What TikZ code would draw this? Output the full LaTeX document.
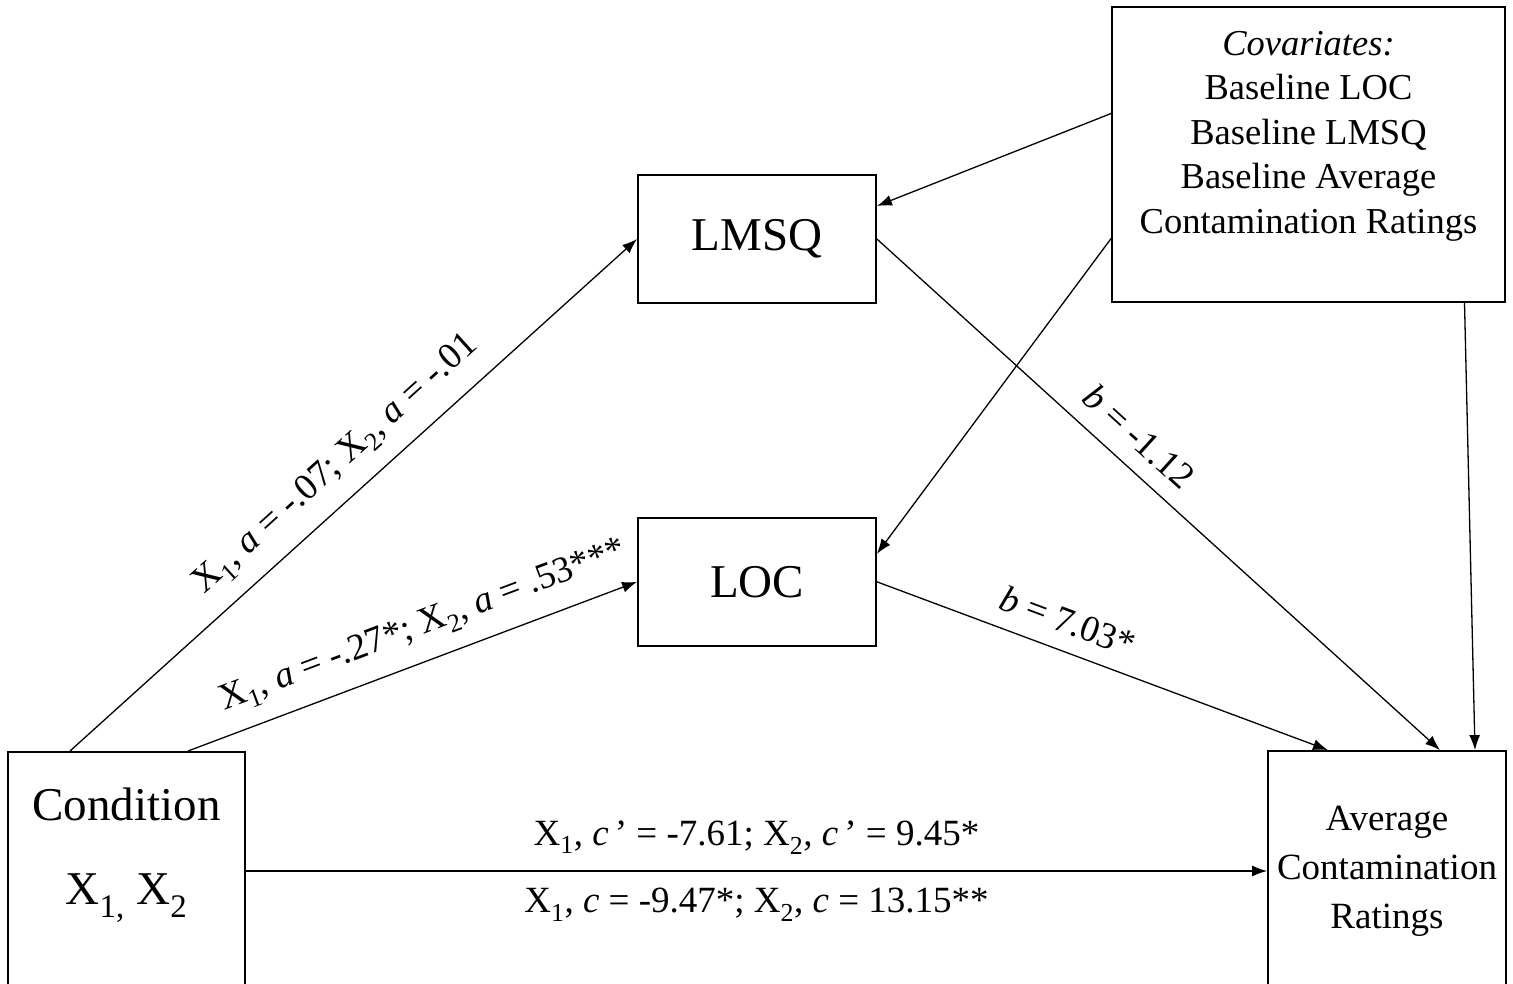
\documentclass[tikz,border=0pt]{standalone}
\usepackage{fontspec}
\setmainfont{Liberation Serif}
\usetikzlibrary{arrows.meta, positioning, calc}

\begin{document}
\begin{tikzpicture}[x=1pt, y=-1pt,
  var/.style={rectangle, draw, line width=1.8pt, inner sep=2pt, align=center},
  big/.style={font=\fontsize{47}{84}\selectfont},
  small/.style={font=\fontsize{37}{49}\selectfont},
  link/.style={-{Latex[length=15pt, width=11pt]}, line width=1.3pt},
  coef/.style={small, sloped, above=13pt}
]
\useasboundingbox (0,0) rectangle (1513,984);

% variables
\node[var, big, minimum width=238pt, minimum height=128pt] (lmsq) at (757,239) {LMSQ};
\node[var, big, minimum width=238pt, minimum height=128pt, below=213pt of lmsq] (loc) {LOC};
\node[var, minimum width=237pt, minimum height=260pt, anchor=north] (cond) at (126.5,751) {};
\node[big, align=center] (condtxt) at (126.5,855) {Condition\\X\textsubscript{1,} X\textsubscript{2}};
\node[var, small, minimum width=238pt, minimum height=240pt] (avg) at (1387,871)
  {Average\\Contamination\\Ratings};
\node[var, minimum width=393pt, minimum height=295pt] (cov) at (1308.5,154.5) {};
\node[align=center, font=\fontsize{36.5}{44.5}\selectfont] (covtxt) at (1308.5,136)
  {\textit{Covariates:}\\Baseline LOC\\Baseline LMSQ\\Baseline Average\\Contamination Ratings};

% a paths
\draw[link] ([xshift=-56.5pt]cond.north) -- node[coef, pos=0.51]
  {X\textsubscript{1}, \textit{a} = -.07; X\textsubscript{2}, \textit{a} = -.01} (lmsq.west);
\draw[link] ([xshift=61.5pt]cond.north) -- node[coef, pos=0.55]
  {X\textsubscript{1}, \textit{a} = -.27*; X\textsubscript{2}, \textit{a} = .53***} (loc.west);

% b paths
\draw[link] (lmsq.east) -- node[coef, pos=0.43] {\textit{b} = -1.12} ([xshift=53pt]avg.north);
\draw[link] (loc.east) -- node[coef, pos=0.40] {\textit{b} = 7.03*} ([xshift=-59pt]avg.north);

% c paths
\draw[link] (cond.east |- avg.west) -- (avg.west)
  node[midway, above=13pt, small] {X\textsubscript{1}, \textit{c}\,’ = -7.61; X\textsubscript{2}, \textit{c}\,’ = 9.45*}
  node[midway, below=13pt, small] {X\textsubscript{1}, \textit{c} = -9.47*; X\textsubscript{2}, \textit{c} = 13.15**};

% covariates
\draw[link] ([yshift=41pt]cov.west) -- ([yshift=33pt]lmsq.east);
\draw[link] ([yshift=-84pt]cov.west) -- ([yshift=28pt]loc.east);
\draw[link] ([xshift=156pt]cov.south) -- ([xshift=88pt]avg.north);
\end{tikzpicture}
\end{document}
